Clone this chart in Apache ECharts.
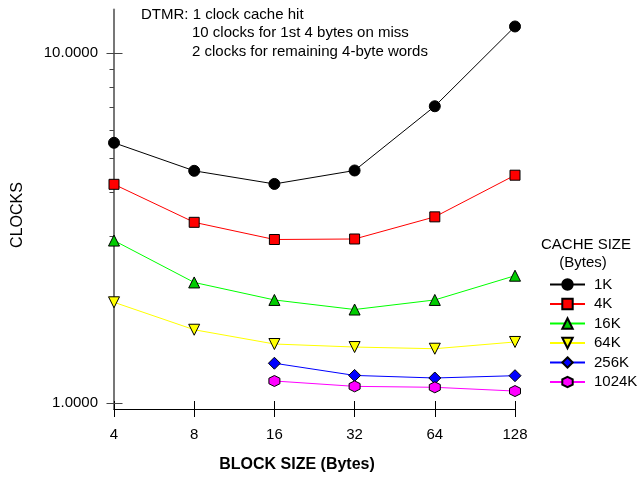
<!DOCTYPE html>
<html>
<head>
<meta charset="utf-8">
<script src="https://cdn.jsdelivr.net/npm/echarts@6/dist/echarts.min.js"></script>
<style>html,body{margin:0;padding:0;background:#fff}#c{width:639px;height:481px}</style>
</head>
<body>
<div id="c"></div>
<script>
const blockSizes = ['4', '8', '16', '32', '64', '128'];
const seriesNames = ['1K', '4K', '16K', '64K', '256K', '1024K'];
const clocks1K = [5.53, 4.60, 4.22, 4.61, 7.03, 11.87];
const clocks4K = [4.21, 3.28, 2.93, 2.94, 3.40, 4.47];
const clocks16K = [2.91, 2.21, 1.97, 1.85, 1.97, 2.31];
const clocks64K = [1.94, 1.62, 1.475, 1.446, 1.43, 1.495];
const clocks256K = [null, null, 1.30, 1.20, 1.18, 1.198];
const clocks1024K = [null, null, 1.157, 1.117, 1.11, 1.083];
const yMajorTicks = [1, 10];
const yMinorTicks = [2, 3, 4, 5, 6, 7, 8, 9];
const noteLines = ['DTMR: 1 clock cache hit', '10 clocks for 1st 4 bytes on miss', '2 clocks for remaining 4-byte words'];

const FONT = '"Liberation Sans", Arial, sans-serif';
const downTri = 'path://M0,0 L10,0 L5,8.66 Z';
const hexagon = 'path://M5,0 L9.33,2.5 L9.33,7.5 L5,10 L0.67,7.5 L0.67,2.5 Z';

const styles = [
  {data: clocks1K, line: '#000000', fill: '#000000', symbol: 'circle', size: 11},
  {data: clocks4K, line: '#ff0000', fill: '#ff0000', symbol: 'rect', size: 10},
  {data: clocks16K, line: '#00ff00', fill: '#00cc00', symbol: 'triangle', size: 11},
  {data: clocks64K, line: '#ffff00', fill: '#ffff00', symbol: downTri, size: 11},
  {data: clocks256K, line: '#0000ff', fill: '#0000ff', symbol: 'diamond', size: 12},
  {data: clocks1024K, line: '#ff00ff', fill: '#ff00ff', symbol: hexagon, size: 11}
];

const lineSeries = styles.map((s, i) => ({
  name: seriesNames[i],
  type: 'line',
  data: s.data,
  symbol: s.symbol,
  symbolSize: s.size,
  showAllSymbol: true,
  connectNulls: false,
  lineStyle: {color: s.line, width: 1},
  itemStyle: {color: s.fill, borderColor: '#000', borderWidth: 1},
  emphasis: {disabled: true},
  z: 3 + i
}));

const tickData = yMajorTicks.map(v => [0, v, 1]).concat(yMinorTicks.map(v => [0, v, 0]));

const chart = echarts.init(document.getElementById('c'), null, {renderer: 'canvas'});
chart.setOption({
  animation: false,
  backgroundColor: '#fff',
  textStyle: {fontFamily: FONT},
  grid: {left: 114, right: 124, top: 9.5, bottom: 72, containLabel: false},
  xAxis: [{
    type: 'category',
    data: blockSizes,
    boundaryGap: false,
    axisLine: {lineStyle: {color: '#000', width: 1}},
    axisTick: {show: true, length: 8, lineStyle: {color: '#000'}, alignWithLabel: true},
    axisLabel: {color: '#000', fontSize: 15, fontFamily: FONT, margin: 18},
    splitLine: {show: false}
  }, {
    type: 'category',
    data: blockSizes,
    boundaryGap: false,
    position: 'bottom',
    axisLine: {show: false},
    axisTick: {show: true, inside: true, length: 8, lineStyle: {color: '#000'}},
    axisLabel: {show: false},
    splitLine: {show: false}
  }],
  yAxis: {
    type: 'log',
    logBase: 10,
    min: 0.9626,
    max: 13.27,
    axisLine: {show: true, lineStyle: {color: '#777', width: 2}},
    axisTick: {show: false},
    splitLine: {show: false},
    minorTick: {show: false},
    axisLabel: {
      color: '#000', fontSize: 15, fontFamily: FONT, margin: 16,
      showMinLabel: true, showMaxLabel: true,
      formatter: function (v) {
        const l = Math.log10(v);
        return Math.abs(l - Math.round(l)) < 1e-6 ? Number(Math.pow(10, Math.round(l))).toFixed(4) : '';
      }
    }
  },
  legend: {
    data: seriesNames,
    orient: 'vertical',
    left: 549,
    top: 277,
    padding: 0,
    itemWidth: 35,
    itemHeight: 13,
    itemGap: 4.5,
    textStyle: {color: '#000', fontSize: 15, fontFamily: FONT, padding: [0, 0, 0, 4]},
    selectedMode: false
  },
  graphic: [
    {type: 'text', left: 141, top: 7, style: {text: noteLines[0], font: '15px ' + FONT, fill: '#000'}},
    {type: 'text', left: 192, top: 25, style: {text: noteLines[1], font: '15px ' + FONT, fill: '#000'}},
    {type: 'text', left: 192, top: 44, style: {text: noteLines[2], font: '15px ' + FONT, fill: '#000'}},
    {type: 'text', x: 586, y: 245, style: {text: 'CACHE SIZE', font: '15px ' + FONT, fill: '#000', align: 'center', verticalAlign: 'middle'}},
    {type: 'text', x: 583, y: 263, style: {text: '(Bytes)', font: '15px ' + FONT, fill: '#000', align: 'center', verticalAlign: 'middle'}},
    {type: 'text', x: 18, y: 215, rotation: Math.PI / 2, style: {text: 'CLOCKS', font: '16px ' + FONT, fill: '#000', align: 'center', verticalAlign: 'middle'}},
    {type: 'text', x: 297, y: 465, style: {text: 'BLOCK SIZE (Bytes)', font: 'bold 16px ' + FONT, fill: '#000', align: 'center', verticalAlign: 'middle'}}
  ],
  series: lineSeries.concat([{
    type: 'custom',
    name: 'yticks',
    silent: true,
    clip: false,
    data: tickData,
    encode: {x: 0, y: 1},
    z: 2,
    renderItem: function (params, api) {
      const p = api.coord([api.value(0), api.value(1)]);
      const major = api.value(2) === 1;
      const x1 = major ? p[0] - 7.5 : p[0] - 4.5;
      const x2 = major ? p[0] + 8.5 : p[0];
      return {
        type: 'line',
        shape: {x1: x1, y1: Math.round(p[1]) + 0.5, x2: x2, y2: Math.round(p[1]) + 0.5},
        style: {stroke: '#444', lineWidth: 1}
      };
    }
  }])
});
</script>
</body>
</html>
